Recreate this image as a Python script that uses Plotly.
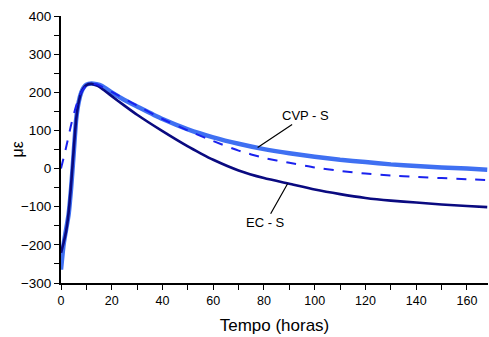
import plotly.graph_objects as go

# CVP - S (light blue, thick)
cvp_x = [0, 1, 2, 3, 4, 5, 6, 7, 8, 9, 10, 12, 14, 16, 20, 25, 30, 40, 50, 60, 70, 80, 90, 100, 110, 120, 130, 140, 150, 160, 168]
cvp_y = [-265, -200, -160, -120, -50, 40, 130, 175, 200, 213, 220, 223, 221, 217, 200, 180, 163, 130, 103, 82, 65, 51, 40, 31, 23, 17, 11, 7, 3, 0, -3]

# EC - S (dark navy)
ec_x = [0, 1, 2, 3, 4, 5, 6, 7, 8, 9, 10, 12, 14, 16, 20, 25, 30, 40, 50, 55, 60, 70, 80, 90, 100, 110, 120, 130, 140, 150, 160, 168]
ec_y = [-221, -195, -165, -115, -40, 50, 130, 175, 200, 212, 219, 222, 218, 210, 190, 165, 141, 98, 58, 40, 23, -5, -25, -40, -55, -67, -77, -84, -89, -94, -98, -101]

# dashed series (medium blue)
d_x = [0, 2, 4, 6, 8, 10, 12, 14, 20, 30, 40, 50, 60, 70, 80, 90, 100, 110, 120, 130, 140, 150, 160, 168]
d_y = [0, 55, 115, 165, 200, 217, 222, 221, 201, 165, 130, 100, 72, 47, 28, 15, 3, -6, -13, -18, -22, -25, -28, -30]

x_ticks = [0, 20, 40, 60, 80, 100, 120, 140, 160]
y_ticks = [-300, -200, -100, 0, 100, 200, 300, 400]

fig = go.Figure()
fig.add_trace(go.Scatter(x=cvp_x, y=cvp_y, mode="lines", line=dict(color="#3f70f2", width=4.5, shape="spline", smoothing=0.6), showlegend=False))
fig.add_trace(go.Scatter(x=ec_x, y=ec_y, mode="lines", line=dict(color="#0a0a80", width=2.6, shape="spline", smoothing=0.6), showlegend=False))
fig.add_trace(go.Scatter(x=d_x, y=d_y, mode="lines", line=dict(color="#1a22ee", width=2, dash="10px,9px", shape="spline", smoothing=0.6), showlegend=False))

fig.add_annotation(x=77.5, y=55, text="CVP - S", showarrow=True, arrowhead=0, arrowwidth=1.2, arrowcolor="black",
                   ax=48, ay=-32, font=dict(family="Arial", size=13, color="black"))
fig.add_annotation(x=89.3, y=-40, text="EC - S", showarrow=True, arrowhead=0, arrowwidth=1.2, arrowcolor="black",
                   ax=-22, ay=39, font=dict(family="Arial", size=13, color="black"))
# y-axis title
fig.add_annotation(xref="paper", yref="paper", x=-0.103, y=0.5, text="με", textangle=-90, showarrow=False,
                   xanchor="center", yanchor="middle", font=dict(family="Arial", size=16, color="black"))

fig.update_layout(
    width=489, height=337,
    margin=dict(l=61, r=1, t=16, b=54),
    paper_bgcolor="white", plot_bgcolor="white",
    font=dict(family="Arial", color="black"),
    xaxis=dict(range=[0, 168.3], tickvals=x_ticks, showgrid=False, zeroline=False,
               showline=True, linecolor="black", linewidth=2, ticks="outside", ticklen=5, tickwidth=1.3,
               tickcolor="black", tickfont=dict(size=12.5),
               minor=dict(dtick=10, tick0=0, ticks="outside", ticklen=5, tickwidth=1.3, tickcolor="black"),
               title=dict(text="Tempo (horas)", font=dict(size=17), standoff=12)),
    yaxis=dict(range=[-300, 400], tickvals=y_ticks, showgrid=False, zeroline=False,
               showline=True, linecolor="black", linewidth=2, ticks="outside", ticklen=5, tickwidth=1.3,
               tickcolor="black", tickfont=dict(size=13.5),
               minor=dict(dtick=50, tick0=0, ticks="outside", ticklen=5, tickwidth=1.3, tickcolor="black")),
)

fig.write_html("out.html")
